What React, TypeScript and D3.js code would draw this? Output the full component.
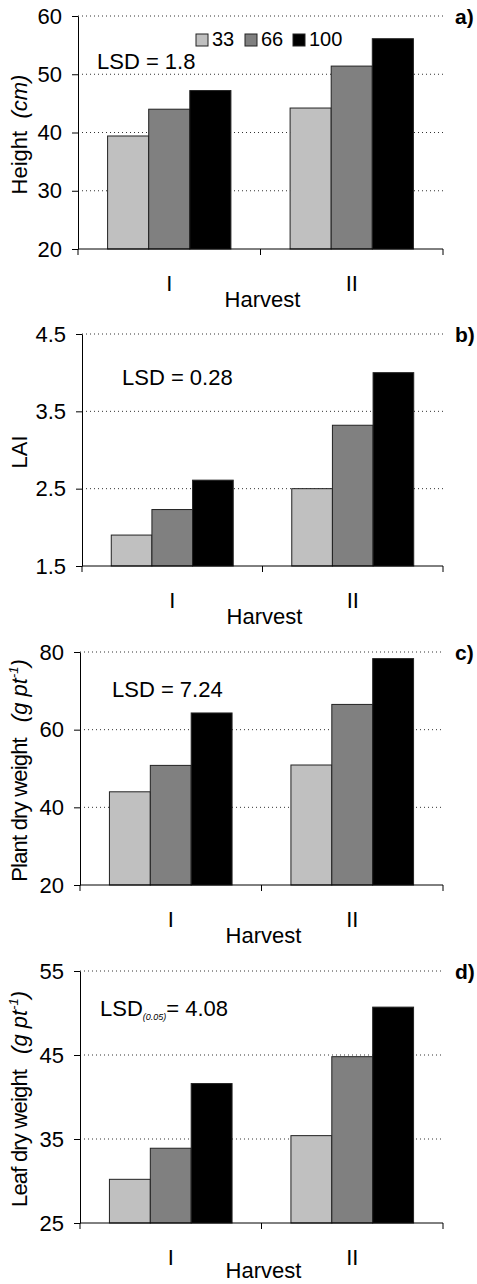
import * as d3 from "d3";
import { useEffect, useRef } from "react";

// harvest categories and irrigation levels
const categories = ["I", "II"];
const series = ["33", "66", "100"];
const seriesColors = ["#c0c0c0", "#808080", "#000000"];

// a) height (cm)
const height33 = [39.4, 44.2];
const height66 = [44.0, 51.4];
const height100 = [47.2, 56.1];
const heightTicks = [20, 30, 40, 50, 60];

// b) LAI
const lai33 = [1.9, 2.5];
const lai66 = [2.23, 3.32];
const lai100 = [2.61, 4.0];
const laiTicks = [1.5, 2.5, 3.5, 4.5];

// c) plant dry weight
const plant33 = [44.0, 50.9];
const plant66 = [50.8, 66.5];
const plant100 = [64.3, 78.3];
const plantTicks = [20, 40, 60, 80];

// d) leaf dry weight
const leaf33 = [30.2, 35.4];
const leaf66 = [33.9, 44.8];
const leaf100 = [41.6, 50.7];
const leafTicks = [25, 35, 45, 55];

const W = 477;
const H = 1284;
const RIGHT = 443;
const FS = 22;
const font = "'Liberation Sans', Arial, Helvetica, sans-serif";

const panels = [
  { tag: "a)", values: [height33, height66, height100], ticks: heightTicks, top: 16, bottom: 249, left: 78,
    lsd: { x: 97, y: 69, text: "LSD = 1.8", sub: null }, label: "height", legend: true },
  { tag: "b)", values: [lai33, lai66, lai100], ticks: laiTicks, top: 334, bottom: 566, left: 82,
    lsd: { x: 122, y: 385, text: "LSD = 0.28", sub: null }, label: "lai", legend: false },
  { tag: "c)", values: [plant33, plant66, plant100], ticks: plantTicks, top: 652, bottom: 885, left: 80,
    lsd: { x: 112, y: 697, text: "LSD = 7.24", sub: null }, label: "plant", legend: false },
  { tag: "d)", values: [leaf33, leaf66, leaf100], ticks: leafTicks, top: 971, bottom: 1223, left: 80,
    lsd: { x: 100, y: 1016, text: "= 4.08", sub: "(0.05)" }, label: "leaf", legend: false },
];

const App = () => {
  const ref = useRef<SVGSVGElement>(null);

  useEffect(() => {
    const svg = d3.select(ref.current);
    svg.selectAll("*").remove();

    panels.forEach((p) => {
      const g = svg.append("g").attr("font-family", font);
      const tmin = p.ticks[0];
      const tmax = p.ticks[p.ticks.length - 1];

      const x = d3.scaleBand().domain(categories).range([p.left, RIGHT]).padding(0);
      const xs = d3
        .scaleBand()
        .domain(series)
        .range([0, x.bandwidth()])
        .paddingInner(0)
        .paddingOuter(0.72);
      const y = d3.scaleLinear().domain([tmin, tmax]).range([p.bottom, p.top]);

      // dotted gridlines
      g.selectAll(".grid")
        .data(p.ticks.slice(1))
        .enter()
        .append("line")
        .attr("x1", p.left)
        .attr("x2", RIGHT)
        .attr("y1", (d) => y(d))
        .attr("y2", (d) => y(d))
        .attr("stroke", "#333")
        .attr("stroke-width", 1)
        .attr("stroke-dasharray", "1,3");

      // bars
      series.forEach((s, si) => {
        g.selectAll(null)
          .data(p.values[si])
          .enter()
          .append("rect")
          .attr("x", (d, i) => x(categories[i]) + xs(s))
          .attr("y", (d) => y(d))
          .attr("width", xs.bandwidth())
          .attr("height", (d) => y(tmin) - y(d))
          .attr("fill", seriesColors[si])
          .attr("stroke", "#222")
          .attr("stroke-width", 1);
      });

      // y axis
      const ax = g
        .append("g")
        .attr("transform", `translate(${p.left},0)`)
        .call(
          d3.axisLeft(y)
            .tickValues(p.ticks)
            .tickSize(6)
            .tickSizeOuter(0)
            .tickPadding(10)
            .tickFormat((d) => String(d))
        );
      ax.attr("font-family", font).attr("font-size", FS);
      ax.select(".domain").attr("stroke", "#000");
      ax.selectAll(".tick line").attr("stroke", "#000");
      ax.selectAll(".tick text").attr("fill", "#000");

      // x axis
      g.append("line")
        .attr("x1", p.left)
        .attr("x2", RIGHT)
        .attr("y1", p.bottom)
        .attr("y2", p.bottom)
        .attr("stroke", "#000");
      const xt = [p.left, x(categories[1]), RIGHT];
      g.selectAll(null)
        .data(xt)
        .enter()
        .append("line")
        .attr("x1", (d) => d)
        .attr("x2", (d) => d)
        .attr("y1", p.bottom)
        .attr("y2", p.bottom + 6)
        .attr("stroke", "#000");

      g.selectAll(null)
        .data(categories)
        .enter()
        .append("text")
        .attr("x", (d) => x(d) + x.bandwidth() / 2)
        .attr("y", p.bottom + 42)
        .attr("text-anchor", "middle")
        .attr("font-size", FS)
        .text((d) => d);

      g.append("text")
        .attr("x", x(categories[1]) + 2)
        .attr("y", Math.min(p.bottom + 58, H - 6))
        .attr("text-anchor", "middle")
        .attr("font-size", FS)
        .text("Harvest");

      // panel tag
      g.append("text")
        .attr("x", 455)
        .attr("y", p.top + 8)
        .attr("font-size", 21)
        .attr("font-weight", "bold")
        .text(p.tag);

      // LSD annotation
      const lsd = g.append("text").attr("x", p.lsd.x).attr("y", p.lsd.y).attr("font-size", FS);
      if (p.lsd.sub) {
        lsd.append("tspan").text("LSD");
        lsd.append("tspan").attr("font-size", 9).attr("font-style", "italic").attr("dy", 4).text(p.lsd.sub);
        lsd.append("tspan").attr("dy", -4).text(p.lsd.text);
      } else {
        lsd.text(p.lsd.text);
      }

      // y label
      const yl = g
        .append("text")
        .attr("transform", `translate(27,${(p.top + p.bottom) / 2 + 2}) rotate(-90)`)
        .attr("text-anchor", "middle")
        .attr("font-size", FS);
      if (p.label === "height") {
        yl.append("tspan").text("Height\u00a0\u00a0");
        yl.append("tspan").attr("font-style", "italic").text("(cm)");
      } else if (p.label === "lai") {
        yl.text("LAI");
      } else {
        yl.append("tspan").attr("letter-spacing", -0.8).text(p.label === "plant" ? "Plant dry weight\u00a0\u00a0\u00a0" : "Leaf dry weight\u00a0\u00a0\u00a0");
        yl.append("tspan").attr("font-style", "italic").text("(g pt");
        yl.append("tspan").attr("font-style", "italic").attr("font-size", 13).attr("dy", -9).text("-1");
        yl.append("tspan").attr("font-style", "italic").attr("dy", 9).text(")");
      }

      // legend
      if (p.legend) {
        const lx = [196, 245, 293];
        series.forEach((s, si) => {
          g.append("rect")
            .attr("x", lx[si])
            .attr("y", 34)
            .attr("width", 12)
            .attr("height", 12)
            .attr("fill", seriesColors[si])
            .attr("stroke", "#222");
          g.append("text")
            .attr("x", lx[si] + 16)
            .attr("y", 46)
            .attr("font-size", 20)
            .text(s);
        });
      }
    });
    // eslint-disable-next-line react-hooks/exhaustive-deps
  }, []);

  return (
    <svg
      ref={ref}
      width={W}
      height={H}
      style={{ position: "absolute", left: 0, top: 0, background: "#fff" }}
    />
  );
};

export default App;
